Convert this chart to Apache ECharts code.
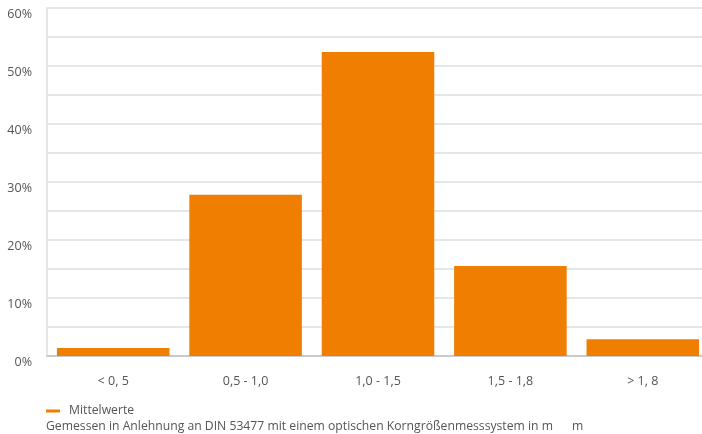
<!DOCTYPE html>
<html>
<head>
<meta charset="utf-8">
<script src="https://cdn.jsdelivr.net/npm/echarts@6/dist/echarts.min.js"></script>
<style>
html,body{margin:0;padding:0;background:#fff;overflow:hidden;}
#c{width:712px;height:434px;}
</style>
</head>
<body>
<div id="c"></div>
<script>
const categories = ['< 0, 5', '0,5 - 1,0', '1,0 - 1,5', '1,5 - 1,8', '> 1, 8'];
const values = [1.4, 27.8, 52.4, 15.5, 2.9];
const seriesName = 'Mittelwerte';
const note = 'Gemessen in Anlehnung an DIN 53477 mit einem optischen Korngrößenmesssystem in m      m';

const chart = echarts.init(document.getElementById('c'), null, {renderer: 'canvas'});
const font = '"Open Sans", "Noto Sans", sans-serif';
chart.setOption({
  animation: false,
  textStyle: {fontFamily: font},
  grid: {left: 47, top: 8, right: 3, bottom: 78, containLabel: false},
  legend: {
    data: [seriesName],
    left: 41, top: 400,
    icon: 'rect', itemWidth: 14, itemHeight: 3, itemGap: 12,
    textStyle: {color: '#555', fontSize: 12.2, fontFamily: font, padding: [0, 0, 0, 4]}
  },
  graphic: [{
    type: 'text', left: 46, top: 421,
    style: {text: note, fill: '#555', fontSize: 12.2, fontFamily: font}
  }],
  xAxis: {
    type: 'category',
    data: categories,
    axisTick: {show: false},
    axisLine: {lineStyle: {color: '#c8cbca', width: 2}},
    axisLabel: {color: '#555', fontSize: 12.5, margin: 19, fontFamily: font}
  },
  yAxis: {
    type: 'value', min: 0, max: 60, interval: 5,
    axisLine: {show: true, lineStyle: {color: '#e3e7e5', width: 2}},
    axisTick: {show: false},
    splitLine: {lineStyle: {color: '#e3e7e5', width: 2}},
    axisLabel: {
      color: '#555', fontSize: 12.5, margin: 15, verticalAlign: 'top', fontFamily: font,
      formatter: v => (v % 10 === 0 ? v + '%' : '')
    }
  },
  series: [{
    name: seriesName,
    type: 'bar',
    data: values,
    barCategoryGap: '15%',
    itemStyle: {color: '#f07e00'}
  }]
});
</script>
</body>
</html>
